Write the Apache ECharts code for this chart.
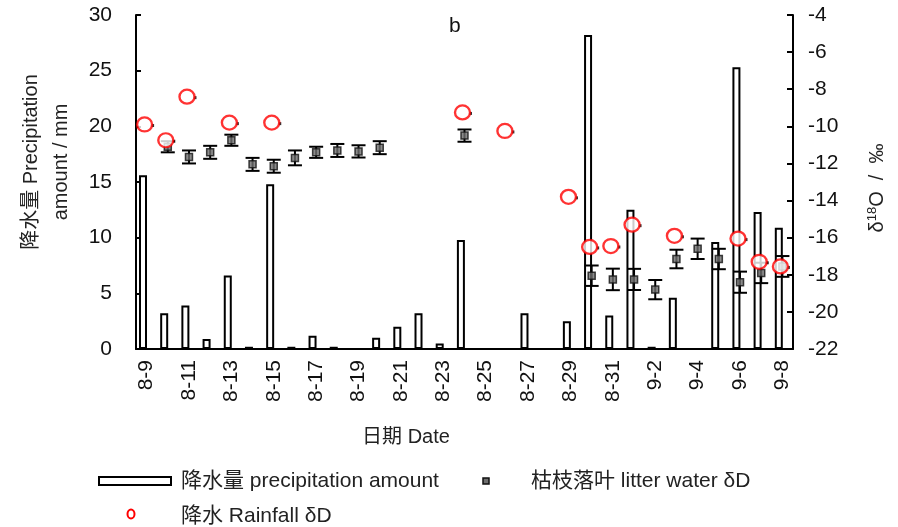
<!DOCTYPE html>
<html>
<head>
<meta charset="utf-8">
<script src="https://cdn.jsdelivr.net/npm/echarts@6/dist/echarts.min.js"></script>
<style>
  html, body { margin: 0; padding: 0; background: #fff; }
  #chart { width: 898px; height: 527px; }
</style>
</head>
<body>
<div id="chart"></div>
<script>
// Daily dates, 9 Aug to 8 Sep
const dates = [
  '8-9','8-10','8-11','8-12','8-13','8-14','8-15','8-16','8-17','8-18','8-19','8-20',
  '8-21','8-22','8-23','8-24','8-25','8-26','8-27','8-28','8-29','8-30','8-31',
  '9-1','9-2','9-3','9-4','9-5','9-6','9-7','9-8'
];

// Daily precipitation amount (mm)
const precipitation = [
  15.6, 3.2, 3.9, 0.9, 6.6, 0.2, 14.8, 0.2, 1.2, 0.2, 0, 1.0,
  2.0, 3.2, 0.5, 9.8, 0, 0, 3.2, 0, 2.5, 28.2, 3.0,
  12.5, 0.2, 4.6, 0, 9.6, 25.3, 12.3, 10.9
];

// Litter water isotope value: mean and standard deviation
const litterMean = [
  null, -11.1, -11.65, -11.4, -10.75, -12.05, -12.15, -11.7, -11.4, -11.3, -11.35, -11.15,
  null, null, null, -10.5, null, null, null, null, null, -18.05, -18.25,
  -18.25, -18.8, -17.15, -16.6, -17.15, -18.4, -17.9, -17.55
];
const litterSd = [
  null, 0.3, 0.35, 0.35, 0.3, 0.35, 0.35, 0.4, 0.3, 0.35, 0.33, 0.35,
  null, null, null, 0.33, null, null, null, null, null, 0.55, 0.58,
  0.57, 0.52, 0.5, 0.55, 0.55, 0.57, 0.55, 0.56
];

// Rainfall isotope value
const rainfall = [
  -9.9, -10.75, -8.4, null, -9.8, null, -9.8, null, null, null, null, null,
  null, null, null, -9.25, null, -10.25, null, null, -13.8, -16.5, -16.45,
  -15.3, null, -15.9, null, null, -16.05, -17.3, -17.55
];

// Axis tick values
const precipTicks = [0, 5, 10, 15, 20, 25, 30];
const isoTicks = [-22, -20, -18, -16, -14, -12, -10, -8, -6, -4];

const FONT = "'Liberation Sans', Arial, 'Noto Sans CJK SC', sans-serif";
const TXT = '#111';

const errorData = [];
const litterPts = [];
litterMean.forEach((m, i) => {
  if (m == null) return;
  errorData.push([i, m - litterSd[i], m + litterSd[i]]);
  litterPts.push([i, m]);
});
const rainPts = [];
rainfall.forEach((v, i) => { if (v != null) rainPts.push([i, v]); });

const chart = echarts.init(document.getElementById('chart'), null, { renderer: 'canvas' });

chart.setOption({
  animation: false,
  backgroundColor: '#fff',
  grid: { left: 136, right: 105, top: 15, bottom: 178, containLabel: false },
  xAxis: {
    type: 'category',
    data: dates,
    boundaryGap: true,
    axisLine: { lineStyle: { color: '#000', width: 2 } },
    axisTick: { inside: true, length: 4, interval: 0, lineStyle: { color: '#000', width: 2 } },
    axisLabel: {
      interval: 1, rotate: 90, margin: 11,
      fontFamily: FONT, fontSize: 21, color: TXT
    },
    splitLine: { show: false }
  },
  yAxis: [
    {
      type: 'value',
      min: precipTicks[0], max: precipTicks[precipTicks.length - 1],
      interval: precipTicks[1] - precipTicks[0],
      axisLine: { show: true, lineStyle: { color: '#000', width: 2 } },
      axisTick: { show: true, inside: true, length: 5, lineStyle: { color: '#000', width: 2 } },
      axisLabel: { margin: 24, fontFamily: FONT, fontSize: 21, color: TXT },
      splitLine: { show: false }
    },
    {
      type: 'value',
      position: 'right',
      min: isoTicks[0], max: isoTicks[isoTicks.length - 1],
      interval: isoTicks[1] - isoTicks[0],
      axisLine: { show: true, lineStyle: { color: '#000', width: 2 } },
      axisTick: { show: true, inside: true, length: 6, lineStyle: { color: '#000', width: 2 } },
      axisLabel: { margin: 15, fontFamily: FONT, fontSize: 21, color: TXT },
      splitLine: { show: false }
    }
  ],
  series: [
    {
      name: '降水量 precipitation amount',
      type: 'bar',
      yAxisIndex: 0,
      data: precipitation,
      barWidth: 8,
      barGap: '-10%',
      itemStyle: { color: '#fff', borderColor: '#000', borderWidth: 2 },
      z: 2
    },
    {
      // empty companion column so the precipitation bars sit left of centre
      name: 'spacer',
      type: 'bar',
      yAxisIndex: 0,
      data: dates.map(() => '-'),
      barWidth: 8,
      silent: true,
      itemStyle: { color: 'transparent' }
    },
    {
      name: 'litter error',
      type: 'custom',
      yAxisIndex: 1,
      data: errorData,
      z: 3,
      renderItem: function (params, api) {
        const x = api.value(0);
        const lo = api.coord([x, api.value(1)]);
        const hi = api.coord([x, api.value(2)]);
        const hw = 7;
        const st = { stroke: '#000', lineWidth: 2 };
        return {
          type: 'group',
          children: [
            { type: 'line', shape: { x1: lo[0], y1: lo[1], x2: hi[0], y2: hi[1] }, style: st },
            { type: 'line', shape: { x1: lo[0] - hw, y1: lo[1], x2: lo[0] + hw, y2: lo[1] }, style: st },
            { type: 'line', shape: { x1: hi[0] - hw, y1: hi[1], x2: hi[0] + hw, y2: hi[1] }, style: st }
          ]
        };
      }
    },
    {
      name: '枯枝落叶 litter water δD',
      type: 'scatter',
      yAxisIndex: 1,
      data: litterPts,
      symbol: 'rect',
      symbolSize: 7,
      itemStyle: { color: '#6e6e6e', borderColor: '#111', borderWidth: 1.5 },
      z: 4
    },
    {
      name: 'rain dot',
      type: 'scatter',
      yAxisIndex: 1,
      data: rainPts,
      symbol: 'rect',
      symbolSize: [3, 3],
      symbolOffset: [6, 1],
      itemStyle: { color: '#000' },
      z: 5
    },
    {
      name: '降水 Rainfall δD',
      type: 'scatter',
      yAxisIndex: 1,
      data: rainPts,
      symbol: 'circle',
      symbolSize: [15, 14],
      symbolOffset: [-2, 0],
      itemStyle: { color: '#fff', borderColor: '#ff0000', borderWidth: 2.3 },
      z: 6
    }
  ],
  graphic: [
    // panel letter
    { type: 'text', left: 449, top: 16, style: { text: 'b', font: '21px ' + FONT, fill: TXT } },
    // left axis title
    { type: 'text', x: 31, y: 162, rotation: Math.PI / 2,
      style: { text: '降水量 Precipitation', font: '20px ' + FONT, fill: '#222', align: 'center', verticalAlign: 'middle' } },
    { type: 'text', x: 61, y: 162, rotation: Math.PI / 2,
      style: { text: 'amount / mm', font: '20px ' + FONT, fill: '#222', align: 'center', verticalAlign: 'middle' } },
    // right axis title
    { type: 'text', x: 877, y: 188, rotation: Math.PI / 2,
      style: {
        text: '{a|δ}{s|18}{a|O  /  ‰}',
        align: 'center', verticalAlign: 'middle',
        rich: {
          a: { fontSize: 20, fontFamily: FONT, fill: '#222', color: '#222' },
          s: { fontSize: 13, fontFamily: FONT, fill: '#222', color: '#222', padding: [0, 0, 9, 0] }
        }
      } },
    // x axis title
    { type: 'text', x: 406, y: 437,
      style: { text: '日期 Date', font: '20px ' + FONT, fill: '#222', align: 'center', verticalAlign: 'middle' } },
    // legend
    { type: 'rect', shape: { x: 99, y: 477, width: 72, height: 8 }, style: { fill: '#fff', stroke: '#000', lineWidth: 2 } },
    { type: 'text', x: 181, y: 481,
      style: { text: '降水量 precipitation amount', font: '21px ' + FONT, fill: '#222', verticalAlign: 'middle' } },
    { type: 'rect', shape: { x: 483, y: 478, width: 6, height: 6 }, style: { fill: '#6e6e6e', stroke: '#111', lineWidth: 1.5 } },
    { type: 'text', x: 531, y: 481,
      style: { text: '枯枝落叶 litter water δD', font: '21px ' + FONT, fill: '#222', verticalAlign: 'middle' } },
    { type: 'ellipse', shape: { cx: 131, cy: 514, rx: 3.5, ry: 4.5 }, style: { fill: 'none', stroke: '#ff0000', lineWidth: 2 } },
    { type: 'text', x: 181, y: 516,
      style: { text: '降水 Rainfall δD', font: '21px ' + FONT, fill: '#222', verticalAlign: 'middle' } }
  ]
});
</script>
</body>
</html>
